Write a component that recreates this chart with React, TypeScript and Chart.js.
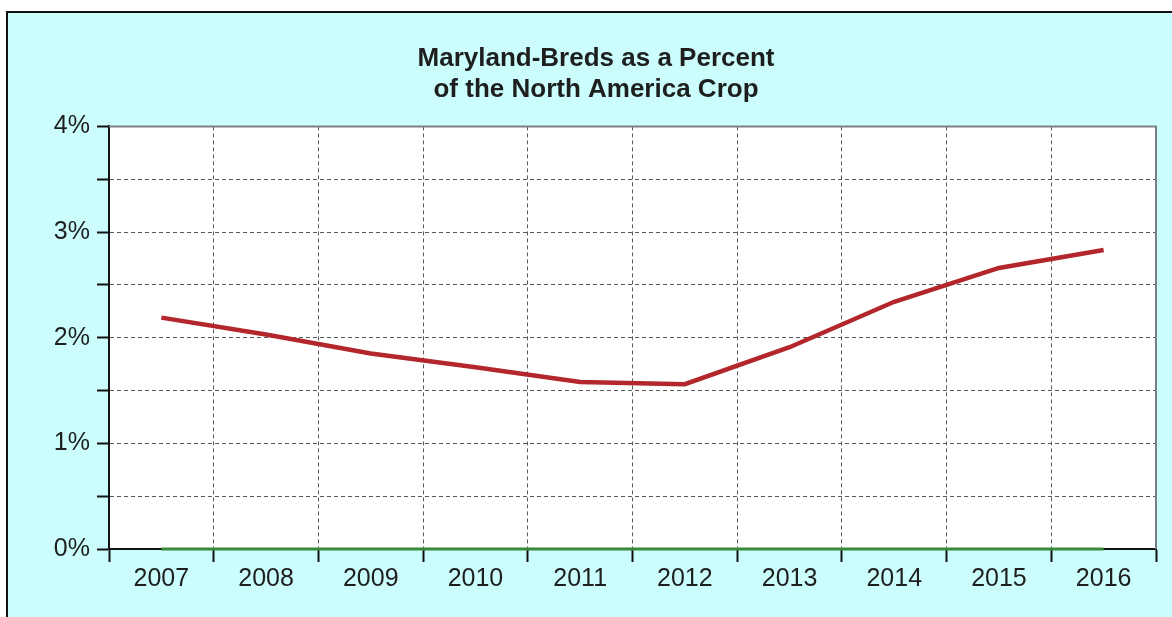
import React, { useEffect, useRef } from "react";
import { Chart, registerables } from "chart.js";

Chart.register(...registerables);

const years = ["2007", "2008", "2009", "2010", "2011", "2012", "2013", "2014", "2015", "2016"];
const marylandPct = [2.19, 2.03, 1.85, 1.72, 1.58, 1.56, 1.91, 2.34, 2.66, 2.83];
const baselinePct = [0, 0, 0, 0, 0, 0, 0, 0, 0, 0];
const titleLines = ["Maryland-Breds as a Percent", "of the North America Crop"];
const yMin = 0;
const yMax = 4;
const yStep = 0.5;

const W = 1172;
const H = 617;
const FONT = "'Liberation Sans', Arial, Helvetica, sans-serif";
const TEXT = "#1e1e1e";
const GRID = "#5a5a5a";

const framePlugin = {
  id: "frame",
  beforeDraw(chart: any) {
    const { ctx, chartArea } = chart;
    ctx.save();
    ctx.fillStyle = "#ffffff";
    ctx.fillRect(0, 0, W, H);
    ctx.fillStyle = "#cbfdfd";
    ctx.fillRect(7, 12, W - 7, H - 12);
    ctx.fillStyle = "#111111";
    ctx.fillRect(6, 11, W - 6, 2);
    ctx.fillRect(6, 11, 2, H - 11);
    ctx.fillStyle = "#ffffff";
    ctx.fillRect(chartArea.left, chartArea.top, chartArea.right - chartArea.left, chartArea.bottom - chartArea.top);
    ctx.restore();
  },
  afterDraw(chart: any) {
    const { ctx, chartArea } = chart;
    ctx.save();
    ctx.strokeStyle = "#7a8080";
    ctx.lineWidth = 2;
    ctx.beginPath();
    ctx.moveTo(chartArea.left, chartArea.top);
    ctx.lineTo(chartArea.right, chartArea.top);
    ctx.lineTo(chartArea.right, chartArea.bottom);
    ctx.stroke();
    ctx.restore();
  },
};

export default function App() {
  const ref = useRef<HTMLCanvasElement | null>(null);

  useEffect(() => {
    if (!ref.current) return;
    const chart = new Chart(ref.current, {
      type: "line",
      data: {
        labels: years,
        datasets: [
          {
            label: "Maryland-Breds %",
            data: marylandPct,
            borderColor: "#b2262c",
            borderWidth: 4.5,
            pointRadius: 0,
            tension: 0,
            fill: false,
          },
          {
            label: "Baseline",
            data: baselinePct,
            borderColor: "#3a8a3a",
            borderWidth: 3,
            pointRadius: 0,
            tension: 0,
            fill: false,
            clip: false as any,
          },
        ],
      },
      options: {
        responsive: false,
        animation: false,
        layout: { padding: { left: 36, right: 16, top: 0, bottom: 0 } },
        plugins: {
          legend: { display: false },
          tooltip: { enabled: false },
          title: {
            display: true,
            text: titleLines,
            color: TEXT,
            font: { family: FONT, size: 26, weight: "bold", lineHeight: 1.2 },
            padding: { top: 43, bottom: 21 },
          },
        },
        scales: {
          x: {
            offset: true,
            grid: {
              offset: true,
              color: GRID,
              lineWidth: 1,
              tickLength: 13,
              tickColor: "#111111",
              tickWidth: 2,
              tickBorderDash: [],
            } as any,
            border: { display: true, color: "#111111", width: 2, dash: [4, 3] } as any,
            ticks: {
              color: TEXT,
              padding: 2,
              font: { family: FONT, size: 25 },
              maxRotation: 0,
              autoSkip: false,
            },
            afterFit: (scale: any) => {
              scale.height = 68;
            },
          },
          y: {
            min: yMin,
            max: yMax,
            grid: {
              color: GRID,
              lineWidth: 1,
              tickLength: 12,
              tickColor: "#111111",
              tickWidth: 2,
              tickBorderDash: [],
            } as any,
            border: { display: true, color: "#111111", width: 2, dash: [4, 3] } as any,
            ticks: {
              stepSize: yStep,
              color: TEXT,
              padding: 7,
              font: { family: FONT, size: 25 },
              callback: (v: any) => (Number(v) % 1 === 0 ? `${Number(v)}%` : ""),
            },
            afterFit: (scale: any) => {
              scale.width = 73;
            },
          },
        },
      },
      plugins: [framePlugin],
    });
    return () => chart.destroy();
  }, []);

  return (
    <div style={{ position: "absolute", left: 0, top: 0, width: W, height: H, background: "#ffffff" }}>
      <canvas ref={ref} width={W} height={H} style={{ width: W, height: H, display: "block" }} />
    </div>
  );
}
